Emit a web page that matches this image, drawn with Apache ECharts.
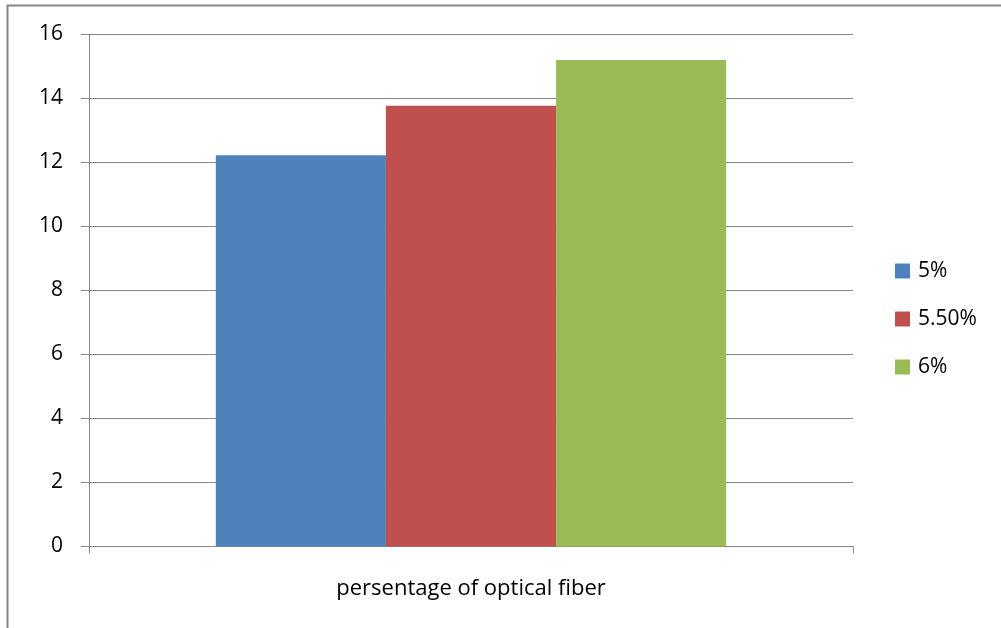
<!DOCTYPE html>
<html><head><meta charset="utf-8">
<script src="https://cdn.jsdelivr.net/npm/echarts@6/dist/echarts.min.js"></script>
<style>html,body{margin:0;padding:0;background:#fff}#c{width:1001px;height:628px}</style>
</head><body><div id="c"></div>
<script>
const categories = ['persentage of optical fiber'];
const seriesNames = ['5%', '5.50%', '6%'];
const values5 = [12.23];
const values55 = [13.77];
const values6 = [15.2];
const colors = ['#4F81BD', '#C0504D', '#9BBB59'];
const font = 'Open Sans';
const chart = echarts.init(document.getElementById('c'));
const dataSets = [values5, values55, values6];
chart.setOption({
  animation: false,
  textStyle: {fontFamily: font},
  graphic: [{type: 'rect', shape: {x: 7.5, y: 5.5, width: 1100, height: 700}, style: {fill: 'none', stroke: '#868686', lineWidth: 2}}],
  grid: {left: 89, right: 148, top: 34.5, bottom: 81.5, containLabel: false},
  legend: {
    orient: 'vertical', left: 895, top: 260, padding: 0, itemWidth: 15, itemHeight: 15, itemGap: 26,
    icon: 'rect', textStyle: {fontSize: 21, lineHeight: 22, color: '#000', fontFamily: font, padding: [0,0,0,3]},
    data: seriesNames
  },
  xAxis: {
    type: 'category', data: categories,
    axisLine: {lineStyle: {color: '#868686', width: 1}},
    axisTick: {show: true, length: 7, lineStyle: {color: '#868686'}},
    axisLabel: {color: '#000', fontSize: 22, lineHeight: 22, margin: 31, fontFamily: font}
  },
  yAxis: {
    type: 'value', min: 0, max: 16, interval: 2,
    axisLine: {show: true, lineStyle: {color: '#868686'}},
    axisTick: {show: true, inside: false, length: 8, lineStyle: {color: '#868686'}},
    splitLine: {lineStyle: {color: '#868686', width: 1}},
    axisLabel: {color: '#000', fontSize: 21, margin: 26, fontFamily: font}
  },
  series: seriesNames.map((n, i) => ({
    name: n, type: 'bar', data: dataSets[i], barGap: '0%', barCategoryGap: '33.2%',
    itemStyle: {color: colors[i]}
  }))
});
</script></body></html>
